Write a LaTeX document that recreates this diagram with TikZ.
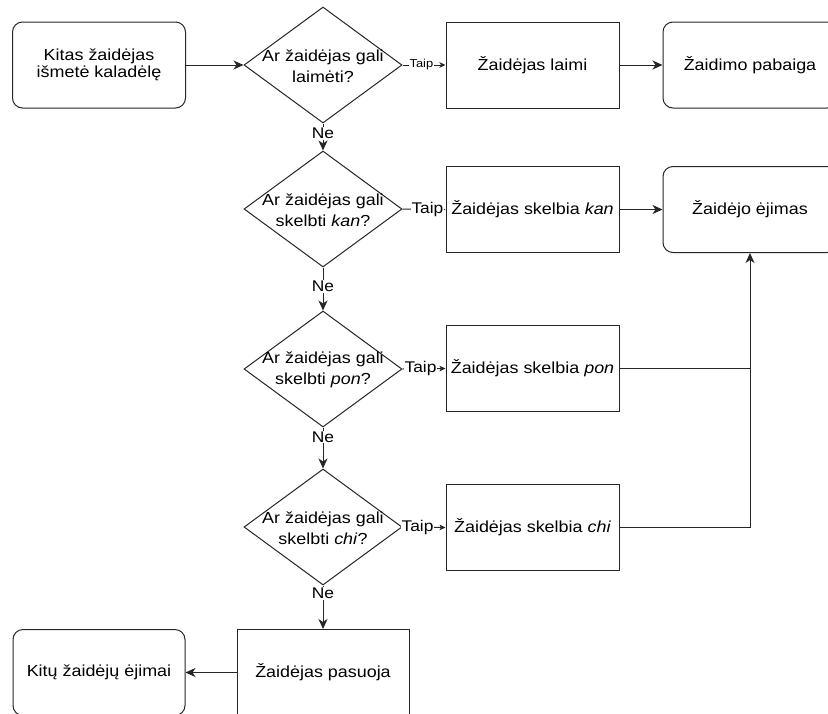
\documentclass[tikz,border=0pt]{standalone}
\usepackage{fontspec}
\setmainfont{Liberation Sans}[FakeStretch=1.12]
\usetikzlibrary{shapes.geometric,arrows.meta}

\begin{document}
\begin{tikzpicture}[x=1pt,y=-1pt,
  every node/.style={font=\fontsize{16}{17}\selectfont, text=black},
  box/.style={draw=black!85, line width=1pt, minimum width=173pt, minimum height=86pt,
              inner sep=0pt, align=center},
  term/.style={box, rounded corners=10pt},
  decision/.style={draw=black!85, diamond, line width=1pt, minimum width=158pt,
                   minimum height=116pt, inner sep=0pt},
  qtext/.style={align=center, inner sep=0pt, font=\fontsize{16}{20.5}\selectfont},
  link/.style={draw=black!85, line width=1pt, -{Stealth[length=10pt,width=9pt,inset=3pt]}},
  slink/.style={draw=black!85, line width=1pt, -{Stealth[length=6pt,width=5.5pt,inset=1.5pt]}},
  lbl/.style={fill=white, inner sep=1pt, font=\fontsize{15.5}{17}\selectfont},
  slbl/.style={lbl, font=\fontsize{11.5}{12}\selectfont},
]
\clip (0,0) rectangle (828,713);
\fill[white] (0,0) rectangle (828,713);

% --- row 1 ---
\node[term] (start) at (99,65) {Kitas žaidėjas\\išmetė kaladėlę};
\node[decision] (d1) at (323,65) {};
\node[qtext] (q1) at (323,66) {Ar žaidėjas gali\\laimėti?};
\node[box] (win) at (532.5,65) {Žaidėjas laimi};
\node[term, minimum width=174pt] (end) at (750,65) {Žaidimo pabaiga};

% --- row 2 ---
\node[decision] (d2) at (323,209) {};
\node[qtext] (q2) at (323,210) {Ar žaidėjas gali\\skelbti \textit{kan}?};
\node[box] (kan) at (532.5,209.5) {Žaidėjas skelbia \textit{kan}};
\node[term, minimum width=174pt] (turn) at (750,209.5) {Žaidėjo ėjimas};

% --- row 3 ---
\node[decision] (d3) at (323,369) {};
\node[qtext] (q3) at (323,370) {Ar žaidėjas gali\\skelbti \textit{pon}?};
\node[box] (pon) at (532.5,368.5) {Žaidėjas skelbia \textit{pon}};

% --- row 4 ---
\node[decision] (d4) at (323,527) {};
\node[qtext] (q4) at (323,528) {Ar žaidėjas gali\\skelbti \textit{chi}?};
\node[box] (chi) at (532.5,527.5) {Žaidėjas skelbia \textit{chi}};

% --- bottom row ---
\node[box, minimum width=172pt] (pass) at (323,672.5) {Žaidėjas pasuoja};
\node[term, minimum width=172pt] (others) at (99,672.5) {Kitų žaidėjų ėjimai};

% --- connectors ---
\draw[link] (start.east) -- (d1.west);
\draw[slink] (d1.east) -- node[slbl, pos=0.44] {Taip} (win.west);
\draw[link] (win.east) -- (end.west);
\draw[link] (d1.south) -- node[lbl, pos=0.36] {Ne} (d2.north);

\draw[link] (d2.east) -- node[lbl, pos=0.58] {Taip} (kan.west);
\draw[link] (kan.east) -- (turn.west);
\draw[link] (d2.south) -- node[lbl, pos=0.44] {Ne} (d3.north);

\draw[slink] (d3.east) -- node[lbl, pos=0.42] {Taip} (pon.west);
\draw[draw=black!85, line width=1pt] (pon.east) -- (pon.east -| turn.south);
\draw[link] (d3.south) -- node[lbl, pos=0.23] {Ne} (d4.north);

\draw[slink] (d4.east) -- node[lbl, pos=0.35] {Taip} (chi.west);
\draw[link] (chi.east) -| (turn.south);
\draw[link] (d4.south) -- node[lbl, pos=0.18] {Ne} (pass.north);

\draw[link] (pass.west) -- (others.east);
\end{tikzpicture}
\end{document}
